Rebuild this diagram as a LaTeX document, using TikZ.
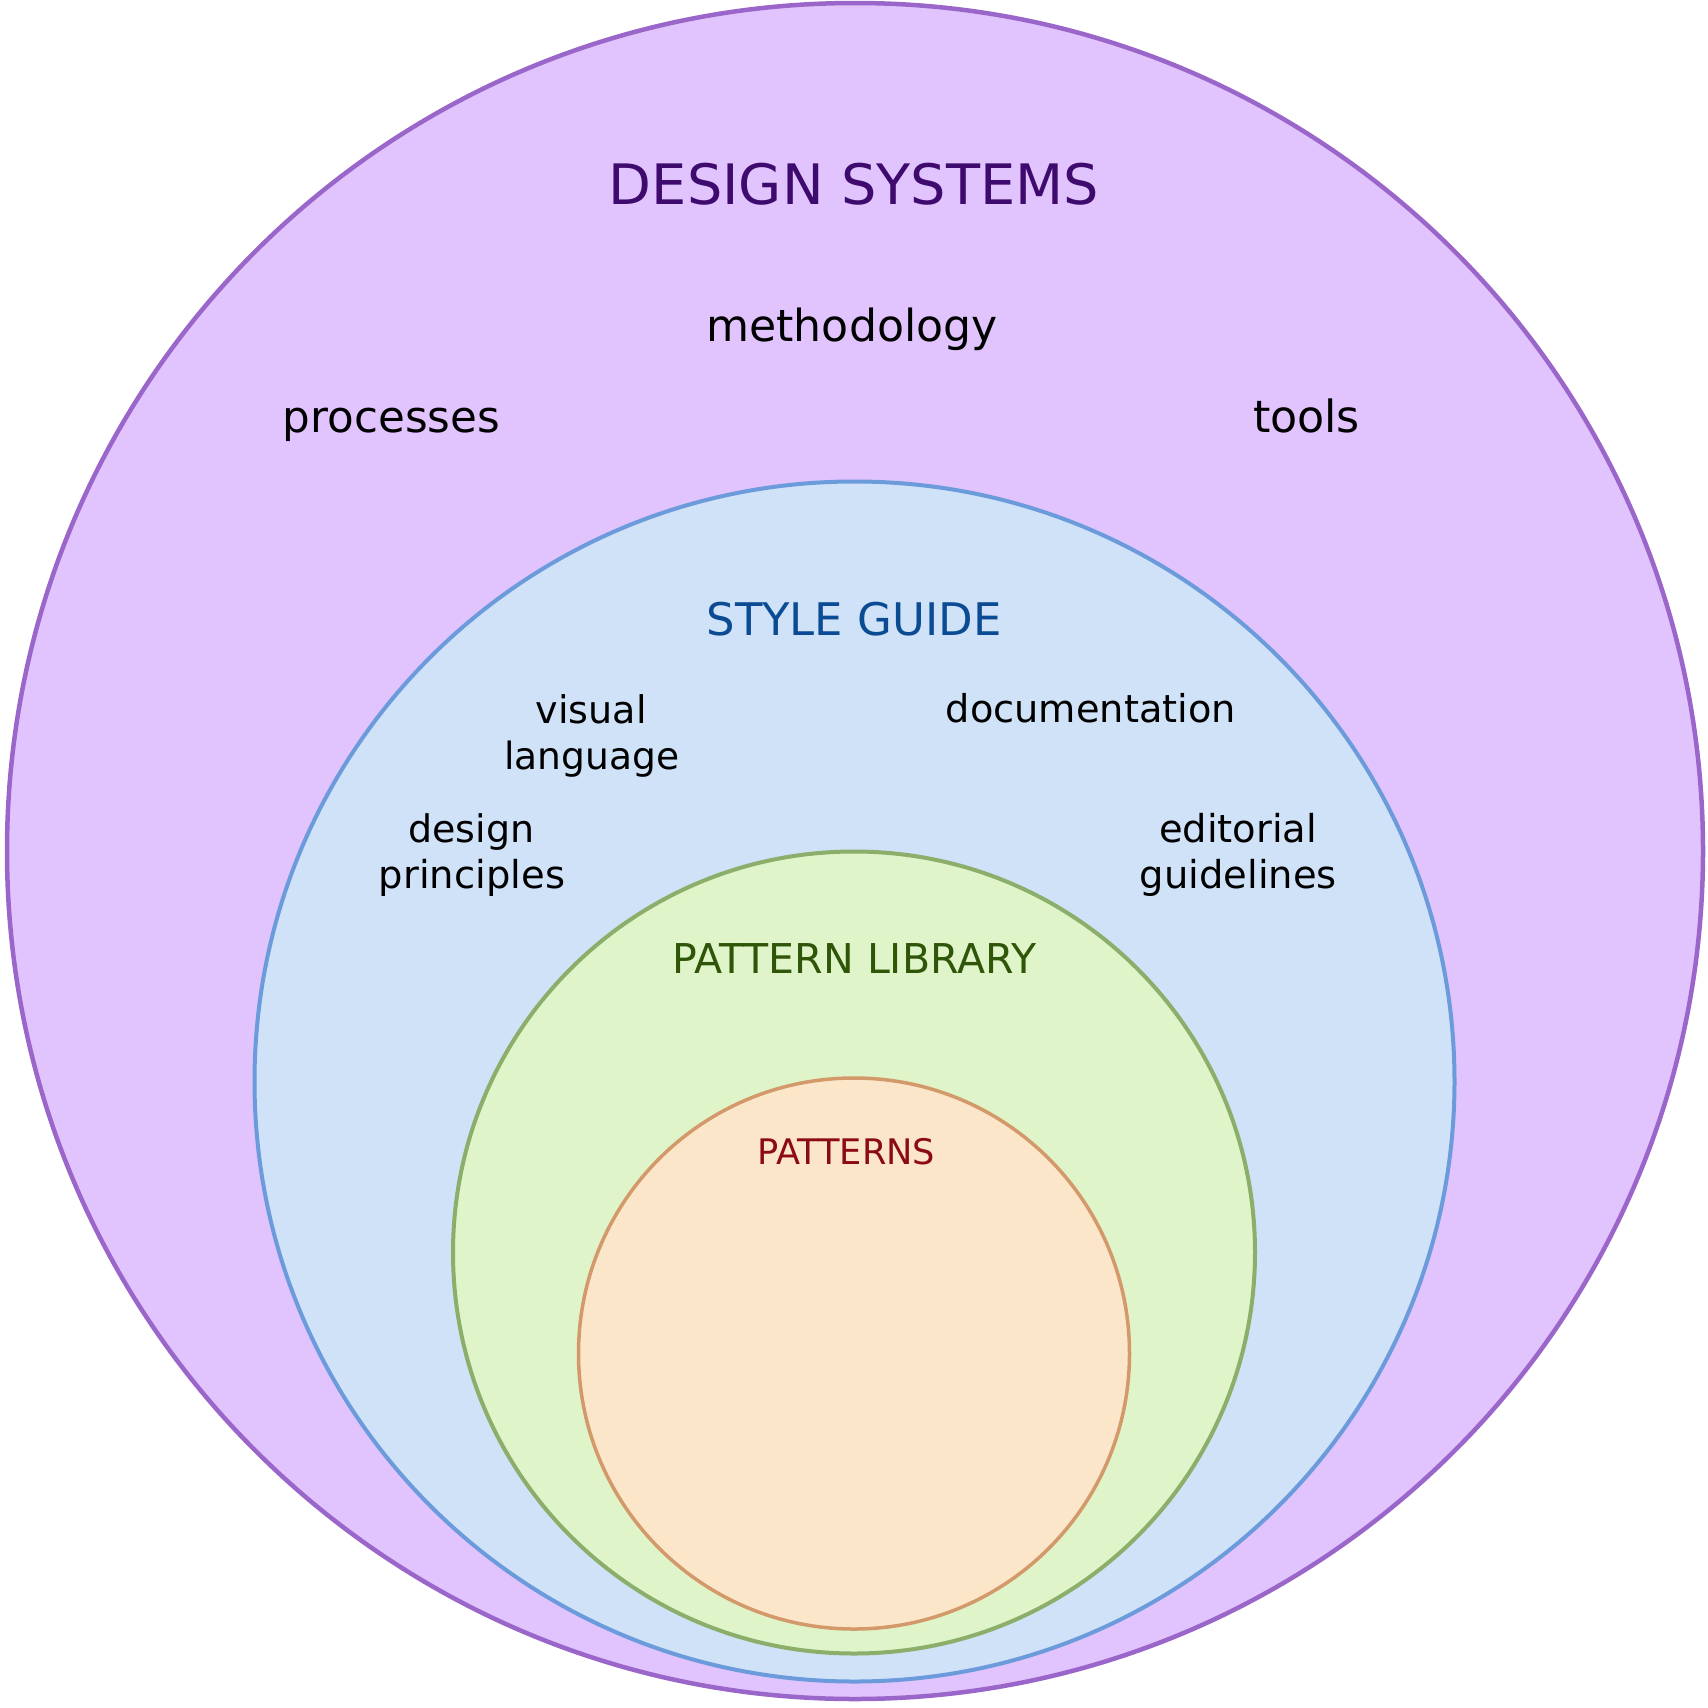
\documentclass[tikz,border=0pt]{standalone}
\usepackage{fontspec}
\setmainfont{DejaVu Sans}
\usepackage{graphicx}
\definecolor{dsfill}{HTML}{E1C4FD}
\definecolor{dsline}{HTML}{9A66C9}
\definecolor{dstext}{HTML}{3F0A6E}
\definecolor{sgfill}{HTML}{D0E2F7}
\definecolor{sgline}{HTML}{6C9BDC}
\definecolor{sgtext}{HTML}{0B4B93}
\definecolor{plfill}{HTML}{DFF4C9}
\definecolor{plline}{HTML}{8BAE6B}
\definecolor{pltext}{HTML}{2E5508}
\definecolor{ptfill}{HTML}{FCE6CA}
\definecolor{ptline}{HTML}{D4996B}
\definecolor{pttext}{HTML}{8B0A14}
\newcommand{\fitw}[2]{\resizebox{#1pt}{!}{#2}}
\begin{document}
\begin{tikzpicture}[x=1pt,y=-1pt,
  lbl/.style={inner sep=0pt, outer sep=0pt, anchor=base, text=black}]
\useasboundingbox (0,0) rectangle (1708,1708);
% circles
\draw[fill=dsfill, draw=dsline, line width=4.5pt] (855,851) circle[radius=848];
\draw[fill=sgfill, draw=sgline, line width=4pt] (854.5,1081.5) circle[radius=600];
\draw[fill=plfill, draw=plline, line width=4pt] (854,1252.5) circle[radius=401];
\draw[fill=ptfill, draw=ptline, line width=3.5pt] (854,1353.5) circle[radius=275.5];
% design systems
\node[lbl, text=dstext] (ds) at (854,204.3) {\fitw{490}{DESIGN SYSTEMS}};
\node[lbl] (meth) at (852,341) {\fitw{291}{methodology}};
\node[lbl] (proc) at (391.5,432.3) {\fitw{217}{processes}};
\node[lbl] (tools) at (1306.5,432.3) {\fitw{107}{tools}};
% style guide
\node[lbl, text=sgtext] (sg) at (854,635) {\fitw{295}{STYLE GUIDE}};
\node[lbl] (vis1) at (591.2,723.3) {\fitw{111}{visual}};
\node[lbl] (vis2) at (591.7,769.3) {\fitw{175}{language}};
\node[lbl] (doc) at (1090.8,722.7) {\fitw{290}{documentation}};
\node[lbl] (dp1) at (471.2,842.7) {\fitw{126}{design}};
\node[lbl] (dp2) at (472,888.3) {\fitw{186}{principles}};
\node[lbl] (ed1) at (1238,842.7) {\fitw{158}{editorial}};
\node[lbl] (ed2) at (1238.3,888) {\fitw{197}{guidelines}};
% pattern library
\node[lbl, text=pltext] (pl) at (854.2,973.3) {\fitw{364}{PATTERN LIBRARY}};
% patterns
\node[lbl, text=pttext] (pt) at (846.2,1164) {\fitw{178}{PATTERNS}};
\end{tikzpicture}
\end{document}
